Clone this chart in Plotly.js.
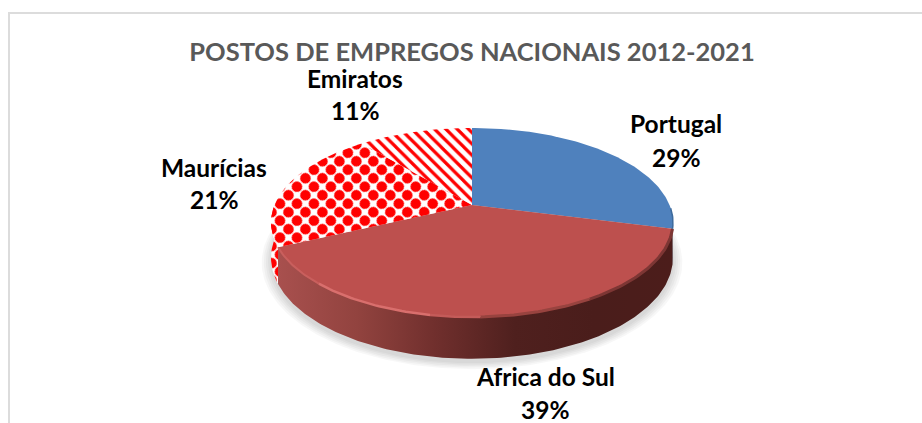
<!DOCTYPE html>
<html>
<head>
<meta charset="utf-8">
<script src="https://cdn.plot.ly/plotly-3.0.1.min.js"></script>
<style>html,body{margin:0;padding:0;background:#fff}#chart{width:922px;height:423px}</style>
</head>
<body>
<div id="chart"></div>
<script>
const chartTitle = 'POSTOS DE EMPREGOS NACIONAIS 2012-2021';
const categories = ['Portugal', 'Africa do Sul', 'Maurícias', 'Emiratos'];
const percentages = [29, 39, 21, 11];

// Perspective disc: slice angles come from the percentages, then get projected.
const CX = 472, CY = 205, P = 0.185, AX = 197.5, AY = 91.3, DEPTH = 34;
function pt(deg, r, drop) {
  const t = deg * Math.PI / 180, x = r * Math.sin(t), y = r * Math.cos(t), w = 1 + P * y;
  return [CX + AX * x / w, CY - AY * y / w + (drop ? drop / w : 0)];
}
function arc(a, b, r, drop) {
  const out = [], n = Math.max(2, Math.ceil(Math.abs(b - a)));
  for (let i = 0; i <= n; i++) out.push(pt(a + (b - a) * i / n, r, drop));
  return out;
}
function polyTrace(points, extra) {
  return Object.assign({
    type: 'scatter', mode: 'lines', x: points.map(p => p[0]), y: points.map(p => p[1]),
    fill: 'toself', line: {width: 0}, hoverinfo: 'skip', showlegend: false
  }, extra);
}
function lineTrace(a, b, color, width) {
  const pts = arc(a, b, 1, 0);
  return {type: 'scatter', mode: 'lines', x: pts.map(p => p[0]), y: pts.map(p => p[1]),
    line: {color, width}, hoverinfo: 'skip', showlegend: false};
}
function wall(a, b) { return arc(a, b, 1, 0).concat(arc(b, a, 1, DEPTH)); }

const edges = [0];
percentages.forEach(v => edges.push(edges[edges.length - 1] + v * 3.6));
const sliceStyles = [
  {fillcolor: '#4f81bd'},
  {fillcolor: '#bd504e'},
  {fillcolor: '#ffffff', fillpattern: {shape: '.', size: 12, solidity: 0.62, fgcolor: '#ff0000', bgcolor: '#ffffff', fgopacity: 1}},
  {fillcolor: '#ffffff', fillpattern: {shape: '\\', size: 8, solidity: 0.4, fgcolor: '#ff0000', bgcolor: '#ffffff', fgopacity: 1}}
];

const traces = [];
// soft shadow
[9, 7, 5, 3, 1].forEach(k => {
  traces.push(polyTrace(arc(0, 360, 1 + k / 200, DEPTH + 3), {fillcolor: 'rgba(0,0,0,0.03)'}));
});
// side walls
const leftExtreme = 259.3, rightExtreme = 100.7;
traces.push(polyTrace(wall(edges[2], leftExtreme + 10), sliceStyles[2]));
traces.push(polyTrace(wall(rightExtreme, edges[1]), {fillcolor: '#2f5073'}));
traces.push(polyTrace(wall(edges[1], edges[2]), {
  fillcolor: '#7a3432',
  fillgradient: {type: 'horizontal', colorscale: [
    [0, '#a8504e'], [0.2, '#92433f'], [0.4, '#702f2d'], [0.6, '#4f201e'], [0.8, '#4a1d1b'], [1, '#4c1d1b']
  ]}
}));
// top face
categories.forEach((name, i) => {
  const pts = [pt(0, 0, 0)].concat(arc(edges[i], edges[i + 1], 1, 0));
  pts.push(pt(0, 0, 0));
  traces.push(polyTrace(pts, Object.assign({
    name, text: name + ' ' + percentages[i] + '%', hoverinfo: 'text', hoveron: 'fills'
  }, sliceStyles[i])));
});
// bevel along the rim
traces.push(lineTrace(edges[1], 150, '#7d3634', 3));
traces.push(lineTrace(150, 178, '#98433f', 3));
traces.push(lineTrace(178, 190, '#c45b59', 2.5));
traces.push(lineTrace(190, 222, '#d96f6d', 2.5));
traces.push(lineTrace(222, edges[2], '#c95f5d', 2));
traces.push(lineTrace(92, edges[1], '#3d6a9c', 1.5));

const labelPositions = [[676, 123, 157], [545, 376, 409], [214, 167, 199], [355, 78, 110]];
const annotations = [];
categories.forEach((name, i) => {
  const p = labelPositions[i];
  const font = {family: 'Lato, Carlito, sans-serif', size: 24.5, color: '#000000', weight: 700};
  annotations.push({x: p[0], y: p[1], xref: 'x', yref: 'y', text: name, showarrow: false, font, xanchor: 'center', yanchor: 'middle'});
  annotations.push({x: p[0], y: p[2], xref: 'x', yref: 'y', text: percentages[i] + '%', showarrow: false, font, xanchor: 'center', yanchor: 'middle'});
});

const layout = {
  width: 922, height: 423, margin: {l: 0, r: 0, t: 0, b: 0},
  paper_bgcolor: '#ffffff', plot_bgcolor: '#ffffff', showlegend: false,
  title: {text: chartTitle, x: 472 / 922, xanchor: 'center', y: 1 - 52 / 423, yanchor: 'middle',
    font: {family: 'Lato, Carlito, sans-serif', size: 25.5, color: '#595959', weight: 700}},
  xaxis: {range: [0, 922], visible: false, fixedrange: true},
  yaxis: {range: [423, 0], visible: false, fixedrange: true},
  annotations,
  shapes: [
    {type: 'line', xref: 'x', yref: 'y', x0: 8.5, x1: 922, y0: 13, y1: 13, line: {color: '#dcdcdc', width: 2}},
    {type: 'line', xref: 'x', yref: 'y', x0: 9, x1: 9, y0: 12, y1: 423, line: {color: '#dcdcdc', width: 2}}
  ]
};
Plotly.newPlot('chart', traces, layout, {displayModeBar: false}).then(gd => {
  // stagger the dot lattice like the reference
  gd.querySelectorAll('pattern').forEach(p => {
    if (p.querySelector('circle')) p.setAttribute('patternTransform', 'rotate(45)');
  });
});
</script>
</body>
</html>
